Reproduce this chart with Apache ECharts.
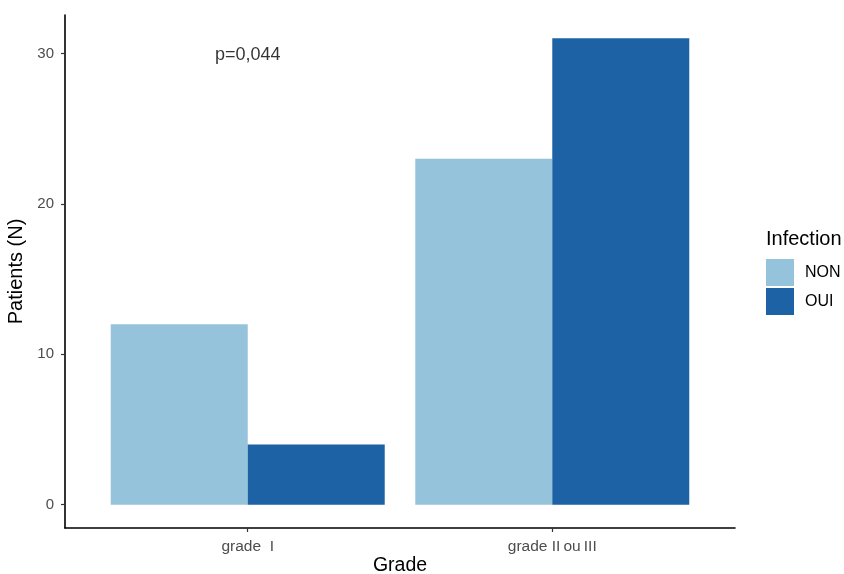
<!DOCTYPE html>
<html><head><meta charset="utf-8">
<script src="https://cdn.jsdelivr.net/npm/echarts@6/dist/echarts.min.js"></script>
<style>html,body{margin:0;padding:0;background:#fff}#c{width:844px;height:574px}</style>
</head><body><div id="c"></div>
<script>
var categories = ['grade  I', 'grade II\u2009ou\u2009III'];
var seriesNames = ['NON', 'OUI'];
var nonValues = [12, 23];
var ouiValues = [4, 31];
var yTicks = [0, 10, 20, 30];
var annotationText = 'p=0,044';
var annotationPos = [1, 30];

var chart = echarts.init(document.getElementById('c'));
var font = 'Liberation Sans, Arial, sans-serif';
function pts(vals){ return vals.map(function(v,i){ return [i+1, v]; }); }
chart.setOption({
  animation: false,
  textStyle: {fontFamily: font},
  grid: {left: 65, right: 109, top: 15, bottom: 46, containLabel: false, outerBoundsMode: 'none'},
  xAxis: {
    type: 'value', min: 0.4, max: 2.6,
    name: 'Grade', nameLocation: 'middle', nameGap: 28, nameMoveOverlap: false,
    nameTextStyle: {fontSize: 19.5, color: '#000', fontFamily: font},
    axisLine: {show: true, onZero: false, lineStyle: {color: '#000', width: 1.6}},
    axisTick: {show: true, length: 4, lineStyle: {color: '#333', width: 1.2}, customValues: [1, 2]},
    axisLabel: {fontSize: 15.5, color: '#4D4D4D', margin: 11, customValues: [1, 2],
      formatter: function(v){ return categories[Math.round(v)-1] || ''; }},
    splitLine: {show: false}
  },
  yAxis: {
    type: 'value', min: -1.55, max: 32.55,
    name: 'Patients (N)', nameLocation: 'middle', nameGap: 33, nameRotate: 90,
    nameTextStyle: {fontSize: 20, color: '#000', fontFamily: font},
    axisLine: {show: true, onZero: false, lineStyle: {color: '#000', width: 1.6}},
    axisTick: {show: true, length: 4, lineStyle: {color: '#333', width: 1.2}, customValues: yTicks},
    axisLabel: {fontSize: 15, color: '#4D4D4D', margin: 11, customValues: yTicks},
    splitLine: {show: false}
  },
  legend: {
    orient: 'vertical', left: 766, top: 259, itemWidth: 28, itemHeight: 27, itemGap: 2, padding: 0,
    icon: 'rect', data: seriesNames,
    textStyle: {fontSize: 16, color: '#000', fontFamily: font, padding: [0,0,0,6]}
  },
  graphic: [{type: 'text', left: 766, top: 229, style: {text: 'Infection', fontSize: 20, fill: '#000', fontFamily: font}}],
  series: [
    {name: seriesNames[0], type: 'bar', data: pts(nonValues), barWidth: 137, barGap: '0%',
     itemStyle: {color: '#96C3DC'}},
    {name: seriesNames[1], type: 'bar', data: pts(ouiValues), barWidth: 137, barGap: '0%',
     itemStyle: {color: '#1D62A5'}},
    {name: 'annotation', type: 'scatter', data: [annotationPos], symbolSize: 0, silent: true,
     label: {show: true, position: 'inside', formatter: annotationText, fontSize: 18, color: '#000',
       textBorderWidth: 0, fontFamily: font, offset: [0, 2]}}
  ]
});
</script></body></html>
